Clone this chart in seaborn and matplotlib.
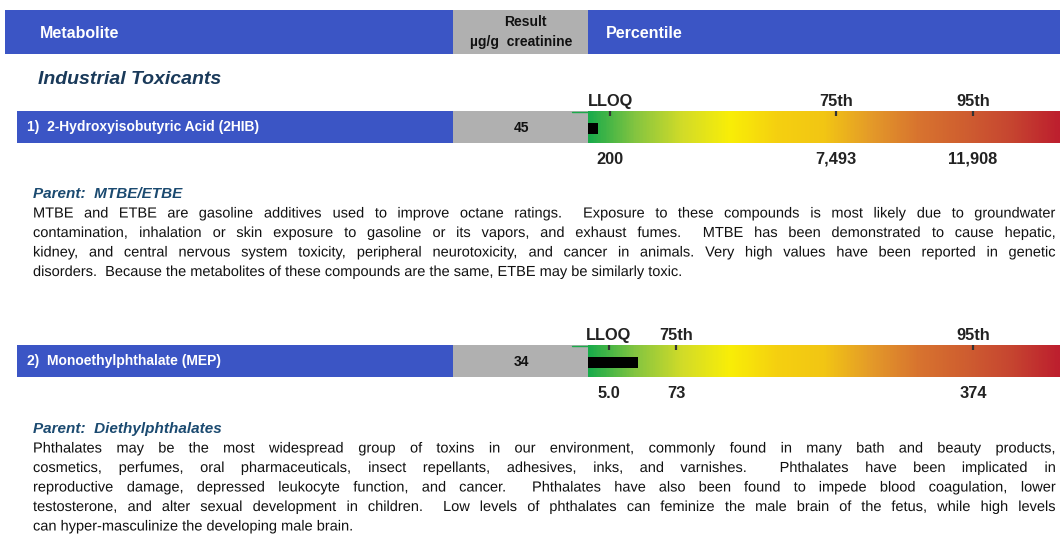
import numpy as np
import seaborn as sns
import matplotlib.pyplot as plt
import matplotlib.patheffects as pe
from matplotlib.patches import Rectangle


################################################################################

SECTION = "Industrial Toxicants"
METABOLITES = ["1)  2-Hydroxyisobutyric Acid (2HIB)", "2)  Monoethylphthalate (MEP)"]
RESULTS = [45, 34]
RESULT_LABELS = ["45", "34"]
LLOQ = [200, 5.0]
P75 = [7493, 73]
P95 = [11908, 374]
LLOQ_LABELS = ["200", "5.0"]
P75_LABELS = ["7,493", "73"]
P95_LABELS = ["11,908", "374"]
PARENTS = ["Parent:  MTBE/ETBE", "Parent:  Diethylphthalates"]
NOTES_1 = [
    "MTBE and ETBE are gasoline additives used to improve octane ratings.  Exposure to these compounds is most likely due to groundwater",
    "contamination, inhalation or skin exposure to gasoline or its vapors, and exhaust fumes.  MTBE has been demonstrated to cause hepatic,",
    "kidney, and central nervous system toxicity, peripheral neurotoxicity, and cancer in animals. Very high values have been reported in genetic",
    "disorders.  Because the metabolites of these compounds are the same, ETBE may be similarly toxic.",
]
NOTES_2 = [
    "Phthalates may be the most widespread group of toxins in our environment, commonly found in many bath and beauty products,",
    "cosmetics, perfumes, oral pharmaceuticals, insect repellants, adhesives, inks, and varnishes.  Phthalates have been implicated in",
    "reproductive damage, depressed leukocyte function, and cancer.  Phthalates have also been found to impede blood coagulation, lower",
    "testosterone, and alter sexual development in children.  Low levels of phthalates can feminize the male brain of the fetus, while high levels",
    "can hyper-masculinize the developing male brain.",
]
GRADIENT = ["#1aab4b", "#86c540", "#d3dc28", "#f9ee07", "#f5d010", "#f2c614",
            "#e49a29", "#d8742f", "#cf5e30", "#c64530", "#bd1f2e"]

# layout (pixels)
W, H = 1060, 535
BLUE = "#3b55c5"
GRAY = "#b0b0b0"
ROW_TOP = [111, 345]
ROW_H = 32
NOTE_BASE = [198, 433]
ZERO_PX, P95_PX = 604, 973
BAR_L, BAR_R = 588, 1060
STUB_PX = 10   # marker length shown for results below LLOQ
FONT = ["Liberation Sans", "DejaVu Sans"]


def px_axes(fig, x0, y0, x1, y1):
  return fig.add_axes([x0 / W, 1 - y1 / H, (x1 - x0) / W, (y1 - y0) / H])


def justify(fig, ax, line, x0, x1, y, last, **kw):
  kw["path_effects"] = [pe.Normal()]
  if last:
    ax.text(x0, y, line, **kw)
    return
  r = fig.canvas.get_renderer()
  words = line.split(" ")
  texts = [ax.text(0, y, w, **kw) for w in words]
  widths = [t.get_window_extent(r).width if w else 0 for t, w in zip(texts, words)]
  gap = ((x1 - x0) - sum(widths)) / (len(words) - 1)
  x = x0
  for t, w in zip(texts, widths):
    t.set_x(x)
    x += w + gap


def plotRow(fig, bg, i):
  top = ROW_TOP[i]
  bot = top + ROW_H
  bg.add_patch(Rectangle((17, top), 453 - 17, ROW_H, color=BLUE, lw=0))
  bg.add_patch(Rectangle((453, top), BAR_L - 453, ROW_H, color=GRAY, lw=0))
  bg.plot([572, BAR_L + 2], [top + 0.5, top + 0.5], color=GRADIENT[0], lw=1)
  bg.text(27, top + ROW_H / 2 + 0.5, METABOLITES[i], color="white", fontsize=10,
          fontweight="bold", va="center", ha="left")
  bg.text(521, top + ROW_H / 2 + 0.5, RESULT_LABELS[i], color="#111", fontsize=10,
          fontweight="bold", va="center", ha="center")

  # percentile bar in value units
  ax = px_axes(fig, BAR_L, top, BAR_R, bot)
  unit = P95[i] / (P95_PX - ZERO_PX)
  xmin = (BAR_L - ZERO_PX) * unit
  xmax = (BAR_R - ZERO_PX) * unit
  cmap = sns.blend_palette(GRADIENT, n_colors=60, as_cmap=True)
  ax.imshow(np.linspace(0, 1, 400)[None, :], cmap=cmap, aspect="auto",
            extent=(xmin, xmax, 0, 1))
  ax.set_xlim(xmin, xmax)
  ax.set_ylim(0, 1)
  ax.axis("off")

  if RESULTS[i] >= LLOQ[i]:
    marker = RESULTS[i]
  else:
    marker = xmin + STUB_PX * unit
  ax.barh(0.45, marker - xmin, left=xmin, height=0.35, color="black",
          edgecolor="none", linewidth=0)
  ticks = [LLOQ[i], P75[i], P95[i]]
  ax.vlines(ticks, 0.84, 1.0, color="#333333", lw=1.6)

  tr = ax.get_xaxis_transform()
  for v, lab in zip(ticks, ["LLOQ", "75th", "95th"]):
    ax.text(v, 1.31, lab, transform=tr, ha="center", va="center", fontsize=11.8,
            fontweight="bold", color="#222222", clip_on=False)
  for v, lab in zip(ticks, [LLOQ_LABELS[i], P75_LABELS[i], P95_LABELS[i]]):
    ax.text(v, -0.5, lab, transform=tr, ha="center", va="center", fontsize=11.8,
            fontweight="bold", color="#222222", clip_on=False)


def plotNotes(fig, bg, i, lines):
  y = NOTE_BASE[i]
  bg.text(33, y, PARENTS[i], color="#1b4a70", fontsize=11, fontweight="bold",
          fontstyle="italic", va="baseline", ha="left")
  for k, line in enumerate(lines):
    justify(fig, bg, line, 33, 1056, y + 19.5 + k * 19.5, k == len(lines) - 1,
            fontsize=10.5, color="#111111", va="baseline", ha="left")


def main():
  sns.set_style("white")
  plt.rcParams["font.family"] = FONT

  fig = plt.figure(figsize=(W / 100, H / 100), dpi=100)
  bg = fig.add_axes([0, 0, 1, 1])
  bg.set_xlim(0, W)
  bg.set_ylim(H, 0)
  bg.axis("off")

  # header
  bg.add_patch(Rectangle((5, 10), 453 - 5, 44, color=BLUE, lw=0))
  bg.add_patch(Rectangle((453, 10), BAR_L - 453, 44, color=GRAY, lw=0))
  bg.add_patch(Rectangle((BAR_L, 10), BAR_R - BAR_L, 44, color=BLUE, lw=0))
  bg.text(40, 33.5, "Metabolite", color="white", fontsize=11.5, fontweight="bold", va="center")
  bg.text(525, 22.5, "Result", color="#111", fontsize=10, fontweight="bold",
          va="center", ha="center")
  bg.text(521, 42, "µg/g  creatinine", color="#111", fontsize=10, fontweight="bold",
          va="center", ha="center")
  bg.text(606, 33.5, "Percentile", color="white", fontsize=11.5, fontweight="bold", va="center")

  bg.text(38, 80, SECTION, color="#1a3a5a", fontsize=14, fontweight="bold",
          fontstyle="italic", va="center")

  fig.canvas.draw()
  for i in range(2):
    plotRow(fig, bg, i)
  plotNotes(fig, bg, 0, NOTES_1)
  plotNotes(fig, bg, 1, NOTES_2)

  fig.savefig("out.png", dpi=100)

main()
